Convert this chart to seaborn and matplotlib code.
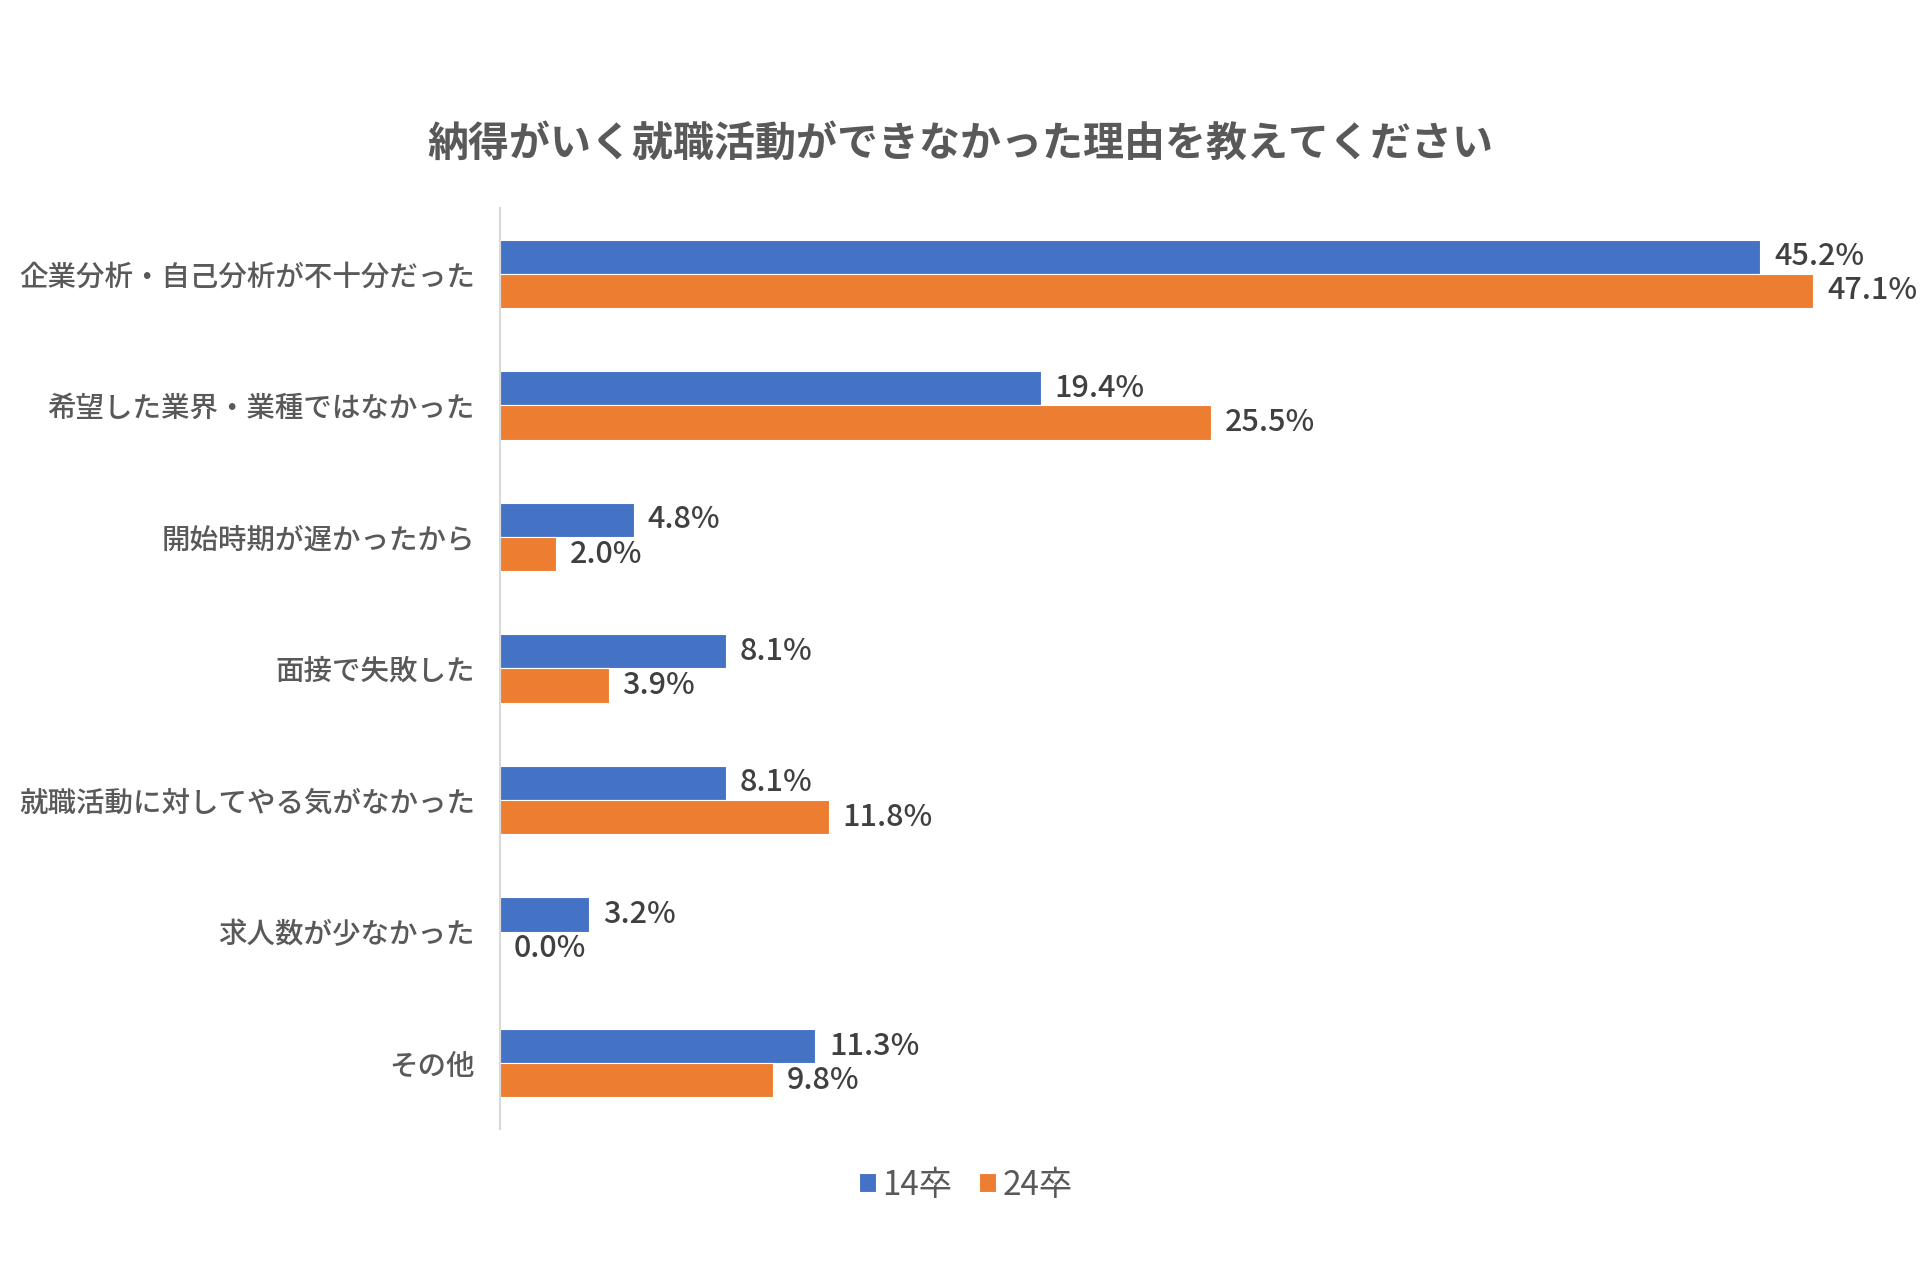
import pandas as pd
import matplotlib.pyplot as plt
import seaborn as sns

# データ
reasons = [
    "企業分析・自己分析が不十分だった",
    "希望した業界・業種ではなかった",
    "開始時期が遅かったから",
    "面接で失敗した",
    "就職活動に対してやる気がなかった",
    "求人数が少なかった",
    "その他",
]
series_names = ["14卒", "24卒"]
values_14 = [45.2, 19.4, 4.8, 8.1, 8.1, 3.2, 11.3]
values_24 = [47.1, 25.5, 2.0, 3.9, 11.8, 0.0, 9.8]
title = "納得がいく就職活動ができなかった理由を教えてください"

colors = ["#4472C4", "#ED7D31"]

sns.set_theme(style="white")
plt.rcParams['font.family'] = ['Noto Sans CJK JP', 'DejaVu Sans']

df = pd.DataFrame({
    "理由": reasons * 2,
    "割合": values_14 + values_24,
    "年": [series_names[0]] * len(reasons) + [series_names[1]] * len(reasons),
})

fig = plt.figure(figsize=(19.2, 12.8), dpi=100)
ax = fig.add_axes([0.2604, 0.118, 0.72, 0.7195])

sns.barplot(data=df, y="理由", x="割合", hue="年", order=reasons,
            hue_order=series_names, palette=colors, width=0.52,
            orient="h", ax=ax, edgecolor="white", linewidth=0.8,
            saturation=1, legend=True)

for cont in ax.containers:
    ax.bar_label(cont, labels=[f"{v:.1f}%" for v in cont.datavalues],
                 padding=10, fontsize=22, color="#404040", fontweight="medium")

ax.set_xlim(0, (0.72 * 1920) / 27.88)
ax.set_ylim(6.5, -0.5)
ax.set_xlabel("")
ax.set_ylabel("")
ax.set_xticks([])
ax.tick_params(axis="y", length=0, pad=18, labelsize=20.5, labelcolor="#595959")
for lbl in ax.get_yticklabels():
    lbl.set_fontweight("medium")
for s in ["top", "right", "bottom"]:
    ax.spines[s].set_visible(False)
ax.spines["left"].set_color("#D9D9D9")
ax.spines["left"].set_linewidth(1.5)

fig.text(0.5, 0.888, title, ha="center", va="center", fontsize=29.5,
         color="#595959", fontweight="bold")

handles, labels = ax.get_legend_handles_labels()
ax.get_legend().remove()
fig.legend(handles, labels, loc="center", bbox_to_anchor=(0.503, 0.074),
           ncol=2, frameon=False, fontsize=24, labelcolor="#595959",
           handlelength=0.5, handleheight=0.5, handletextpad=0.2,
           columnspacing=0.8)

fig.savefig("out.png", dpi=100)
